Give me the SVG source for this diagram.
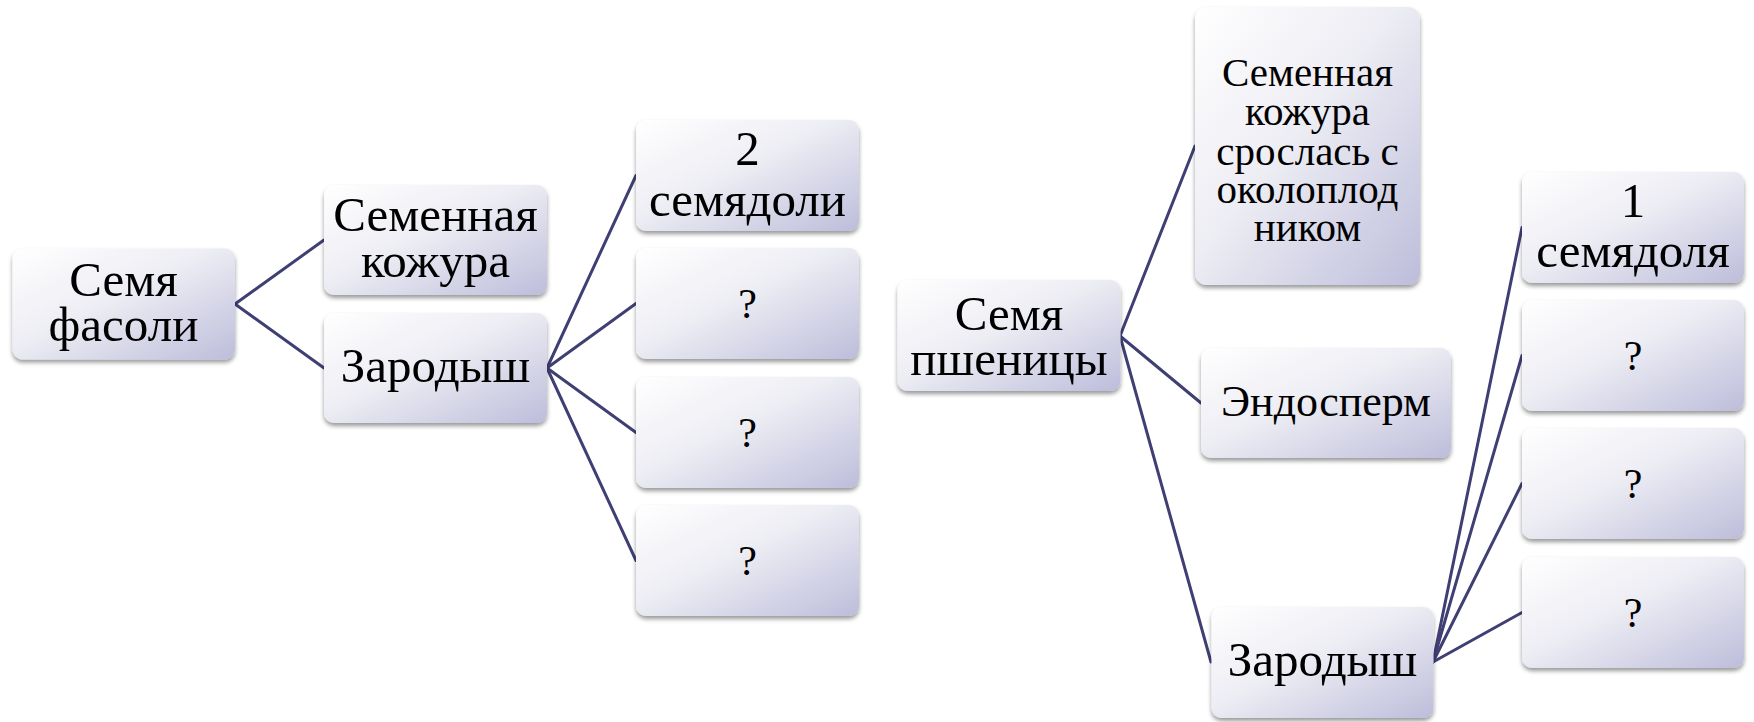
<svg xmlns="http://www.w3.org/2000/svg" width="1754" height="722" viewBox="0 0 1754 722">
<defs>
<linearGradient id="g" x1="0" y1="0" x2="1" y2="1">
<stop offset="0" stop-color="#ffffff"/>
<stop offset="0.45" stop-color="#ededf4"/>
<stop offset="1" stop-color="#bdbddb"/>
</linearGradient>
<filter id="sh" x="-10%" y="-10%" width="120%" height="130%">
<feDropShadow dx="0" dy="3" stdDeviation="2" flood-color="#000" flood-opacity="0.4"/>
</filter>
<style>
.box{fill:url(#g);filter:url(#sh)}
text{font-family:'Liberation Serif','Times New Roman','DejaVu Serif',serif;font-size:49px;fill:#000;text-anchor:middle}
text.s{font-size:41px}
text.e{font-size:44px}
text.q{font-size:42px}
.c line{stroke:#3f3f74;stroke-width:3;stroke-linecap:round}
</style>
</defs>
<rect width="1754" height="722" fill="#fff"/>
<g class="c" id="connectors">
<line x1="235" y1="304" x2="324" y2="240"/>
<line x1="235" y1="304" x2="324" y2="368"/>
<line x1="547" y1="368" x2="636" y2="175.5"/>
<line x1="547" y1="368" x2="636" y2="303.5"/>
<line x1="547" y1="368" x2="636" y2="432.5"/>
<line x1="547" y1="368" x2="636" y2="560.5"/>
<line x1="1120" y1="336" x2="1195" y2="146"/>
<line x1="1120" y1="336" x2="1201" y2="403"/>
<line x1="1120" y1="336" x2="1211" y2="662"/>
<line x1="1433" y1="662" x2="1522" y2="227.5"/>
<line x1="1433" y1="662" x2="1522" y2="355.5"/>
<line x1="1433" y1="662" x2="1522" y2="483.5"/>
<line x1="1433" y1="662" x2="1522" y2="612.5"/>
</g>
<g id="n_bean"><rect class="box" x="12.5" y="248.5" width="222.5" height="111" rx="10"/><text x="123.5" y="296">Семя</text><text x="123.5" y="341">фасоли</text></g>
<g id="n_bean_coat"><rect class="box" x="324" y="185" width="223" height="110" rx="10"/><text x="435.5" y="231">Семенная</text><text x="435.5" y="277">кожура</text></g>
<g id="n_bean_embryo"><rect class="box" x="324" y="313" width="223" height="110" rx="10"/><text x="435.5" y="382">Зародыш</text></g>
<g id="n_bean_c1"><rect class="box" x="636" y="120" width="223" height="111" rx="10"/><text x="747.5" y="165">2</text><text x="747.5" y="216">семядоли</text></g>
<g id="n_bean_c2"><rect class="box" x="636" y="248" width="223" height="111" rx="10"/><text class="q" x="747.5" y="318">?</text></g>
<g id="n_bean_c3"><rect class="box" x="636" y="377" width="223" height="111" rx="10"/><text class="q" x="747.5" y="447">?</text></g>
<g id="n_bean_c4"><rect class="box" x="636" y="505" width="223" height="111" rx="10"/><text class="q" x="747.5" y="575">?</text></g>
<g id="n_wheat"><rect class="box" x="897.5" y="280" width="223" height="111" rx="10"/><text x="1009" y="330">Семя</text><text x="1009" y="375">пшеницы</text></g>
<g id="n_wheat_coat"><rect class="box" x="1195" y="7" width="225" height="278" rx="12"/><text class="s" x="1307.5" y="86">Семенная</text><text class="s" x="1307.5" y="125">кожура</text><text class="s" x="1307.5" y="165">срослась с</text><text class="s" x="1307.5" y="203">околоплод</text><text class="s" x="1307.5" y="241">ником</text></g>
<g id="n_wheat_endo"><rect class="box" x="1201" y="348" width="250" height="110" rx="10"/><text class="e" x="1326" y="416">Эндосперм</text></g>
<g id="n_wheat_embryo"><rect class="box" x="1211.5" y="607" width="222" height="111" rx="10"/><text x="1322.5" y="676">Зародыш</text></g>
<g id="n_wheat_c1"><rect class="box" x="1522" y="172" width="222" height="111" rx="10"/><text x="1633" y="217">1</text><text x="1633" y="267">семядоля</text></g>
<g id="n_wheat_c2"><rect class="box" x="1522" y="300" width="222" height="111" rx="10"/><text class="q" x="1633" y="370">?</text></g>
<g id="n_wheat_c3"><rect class="box" x="1522" y="428" width="222" height="111" rx="10"/><text class="q" x="1633" y="498">?</text></g>
<g id="n_wheat_c4"><rect class="box" x="1522" y="557" width="222" height="111" rx="10"/><text class="q" x="1633" y="627">?</text></g>
</svg>
